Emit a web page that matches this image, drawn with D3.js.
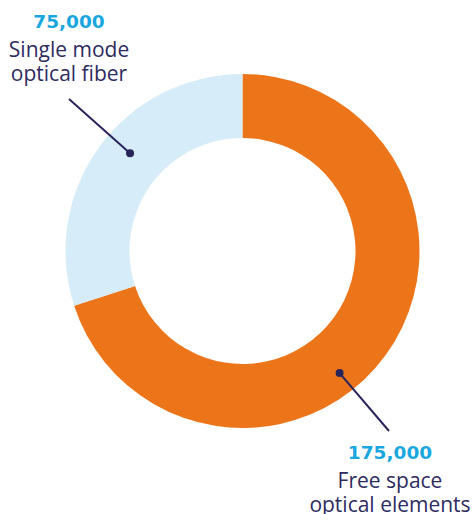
<!DOCTYPE html>
<html>
<head>
<meta charset="utf-8">
<script src="https://cdn.jsdelivr.net/npm/d3@7"></script>
<style>
  body { margin: 0; background: #fff; }
  svg { display: block; }
</style>
</head>
<body>
<svg id="chart"></svg>
<script>
// donut data
var categories = ["Free space optical elements", "Single mode optical fiber"];
var values = [175000, 75000];
var labelLines = [["Free space", "optical elements"], ["Single mode", "optical fiber"]];
var colors = ["#ec7519", "#d6ecf8"];

var svgWidth = 472, svgHeight = 514;
var cx = 242.5, cy = 251;
var outerR = 177, innerR = 113;

// annotation layout: where the dot sits (angle in degrees from top, radius),
// where the leader ends, and where the text block is centred
var anno = [
  { dotAngle: 141.5, dotR: 156, endX: 389, endY: 431, textX: 390, textY: 459 },
  { dotAngle: 311, dotR: 149, endX: 69, endY: 99, textX: 69, textY: 28 }
];

var svg = d3.select("#chart")
  .attr("width", svgWidth)
  .attr("height", svgHeight);

var g = svg.append("g")
  .attr("transform", "translate(" + cx + "," + cy + ")");

var pie = d3.pie().sort(null).value(function(d) { return d; });
var arc = d3.arc().innerRadius(innerR).outerRadius(outerR);

g.selectAll("path")
  .data(pie(values))
  .enter().append("path")
  .attr("d", arc)
  .attr("fill", function(d, i) { return colors[i]; });

var fmt = d3.format(",");

anno.forEach(function(a, i) {
  var rad = a.dotAngle * Math.PI / 180;
  var dx = cx + a.dotR * Math.sin(rad);
  var dy = cy - a.dotR * Math.cos(rad);

  svg.append("line")
    .attr("x1", dx).attr("y1", dy)
    .attr("x2", a.endX).attr("y2", a.endY)
    .attr("stroke", "#28245a")
    .attr("stroke-width", 2);

  svg.append("circle")
    .attr("cx", dx).attr("cy", dy)
    .attr("r", 4)
    .attr("fill", "#28245a");

  var t = svg.append("text")
    .attr("x", a.textX)
    .attr("y", a.textY)
    .attr("text-anchor", "middle");

  t.append("tspan")
    .attr("x", a.textX)
    .attr("fill", "#1aa7e0")
    .style("font-family", "'DejaVu Sans', sans-serif")
    .style("font-size", "18.5px")
    .style("font-weight", 700)
    .text(fmt(values[i]));

  labelLines[i].forEach(function(line, j) {
    t.append("tspan")
      .attr("x", a.textX)
      .attr("dy", j == 0 ? 28.5 : 24.5)
      .attr("fill", "#2e2b60")
      .style("font-family", "'Open Sans', sans-serif")
      .style("font-size", "21px")
      .style("font-weight", 400)
      .text(line);
  });
});
</script>
</body>
</html>
